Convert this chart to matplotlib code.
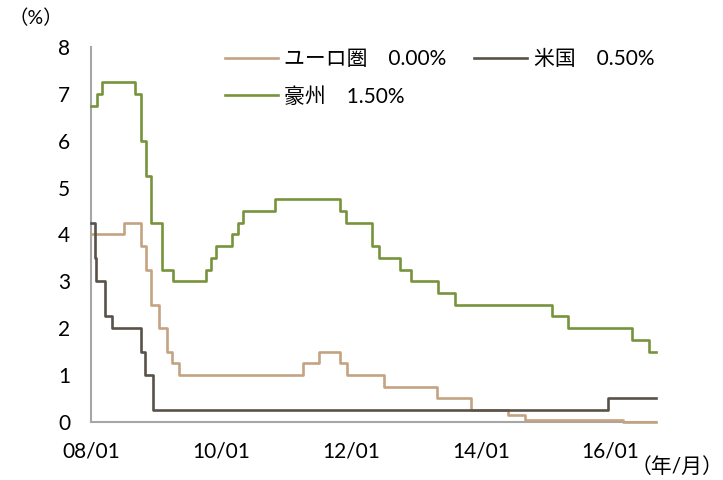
import pandas as pd
import matplotlib
matplotlib.use('Agg')
import matplotlib.pyplot as plt
import matplotlib.dates as mdates

plt.rcParams['font.family'] = ['Lato', 'Noto Sans CJK JP', 'DejaVu Sans']

# policy rate changes (announcement date, new rate)
euro_dates = ['2008-01-01', '2008-07-03', '2008-10-08', '2008-11-06', '2008-12-04',
              '2009-01-15', '2009-03-05', '2009-04-02', '2009-05-07', '2011-04-07',
              '2011-07-07', '2011-11-03', '2011-12-08', '2012-07-05', '2013-05-02',
              '2013-11-07', '2014-06-05', '2014-09-04', '2016-03-10', '2016-09-15']
euro_rates = [4.00, 4.25, 3.75, 3.25, 2.50, 2.00, 1.50, 1.25, 1.00, 1.25,
              1.50, 1.25, 1.00, 0.75, 0.50, 0.25, 0.15, 0.05, 0.00, 0.00]

us_dates = ['2008-01-01', '2008-01-22', '2008-01-30', '2008-03-18', '2008-04-30',
            '2008-10-08', '2008-10-29', '2008-12-16', '2015-12-16', '2016-09-15']
us_rates = [4.25, 3.50, 3.00, 2.25, 2.00, 1.50, 1.00, 0.25, 0.50, 0.50]

aus_dates = ['2008-01-01', '2008-02-05', '2008-03-04', '2008-09-02', '2008-10-07',
             '2008-11-04', '2008-12-02', '2009-02-03', '2009-04-07', '2009-10-06',
             '2009-11-03', '2009-12-01', '2010-03-02', '2010-04-06', '2010-05-04',
             '2010-11-02', '2011-11-01', '2011-12-06', '2012-05-01', '2012-06-05',
             '2012-10-02', '2012-12-04', '2013-05-07', '2013-08-06', '2015-02-03',
             '2015-05-05', '2016-05-03', '2016-08-02', '2016-09-15']
aus_rates = [6.75, 7.00, 7.25, 7.00, 6.00, 5.25, 4.25, 3.25, 3.00, 3.25,
             3.50, 3.75, 4.00, 4.25, 4.50, 4.75, 4.50, 4.25, 3.75, 3.50,
             3.25, 3.00, 2.75, 2.50, 2.25, 2.00, 1.75, 1.50, 1.50]

labels = ['ユーロ圏\u30000.00%', '米国\u30000.50%', '豪州\u30001.50%']
colors = ['#C4A383', '#595249', '#77933C']
xtick_years = [2008, 2010, 2012, 2014, 2016]

fig = plt.figure(figsize=(7.23, 4.8), dpi=100)
ax = fig.add_axes([0.126, 0.121, 0.782, 0.781])

series = [(euro_dates, euro_rates), (us_dates, us_rates), (aus_dates, aus_rates)]
lines = []
for (d, r), lab, c in zip(series, labels, colors):
    ln, = ax.step(pd.to_datetime(d), r, where='post', color=c, lw=1.9,
                  label=lab, clip_on=False, zorder=3)
    lines.append(ln)

ax.set_xlim(pd.Timestamp('2008-01-01'), pd.Timestamp('2016-09-15'))
ax.set_ylim(0, 8)
ax.set_yticks(range(0, 9))
ax.set_xticks([pd.Timestamp(f'{y}-01-01') for y in xtick_years])
ax.xaxis.set_major_formatter(mdates.DateFormatter('%y/%m'))
ax.tick_params(length=0, labelsize=15, pad=15, colors='black')
ax.tick_params(axis='x', pad=14)

for s in ['top', 'right']:
    ax.spines[s].set_visible(False)
for s in ['left', 'bottom']:
    ax.spines[s].set_color('#A6A6A6')
    ax.spines[s].set_linewidth(1.5)

# legend filled column-wise, so order gives rows: euro | us, then aus
order = [0, 2, 1]
ax.legend([lines[i] for i in order], [labels[i] for i in order],
          loc='upper left', bbox_to_anchor=(0.203, 1.045), ncol=2, frameon=False,
          fontsize=15, handlelength=2.55, handletextpad=0.3,
          columnspacing=1.35, labelspacing=0.85)

fig.text(0.012, 0.962, '（%）', fontsize=14, va='center', ha='left')
fig.text(1.0, 0.027, '（年/月）', fontsize=15, va='center', ha='right')

fig.savefig('out.png', dpi=100)
